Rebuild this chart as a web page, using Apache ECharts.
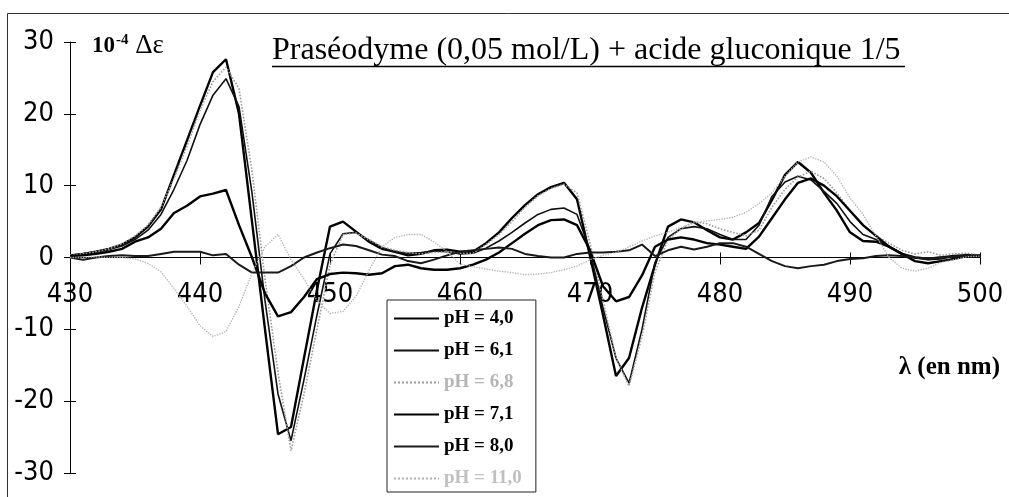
<!DOCTYPE html>
<html><head><meta charset="utf-8">
<script src="https://cdn.jsdelivr.net/npm/echarts/dist/echarts.min.js"></script>
<style>html,body{margin:0;padding:0;background:#fff}#c{width:1009px;height:497px}</style>
</head><body><div id="c"></div>
<script>
const wavelengths = [430,431,432,433,434,435,436,437,438,439,440,441,442,443,444,445,446,447,448,449,450,451,452,453,454,455,456,457,458,459,460,461,462,463,464,465,466,467,468,469,470,471,472,473,474,475,476,477,478,479,480,481,482,483,484,485,486,487,488,489,490,491,492,493,494,495,496,497,498,499,500];
const xTicks = [430,440,450,460,470,480,490,500];
const yTicks = [-30,-20,-10,0,10,20,30];
const seriesNames = ['pH = 4,0','pH = 6,1','pH = 6,8','pH = 7,1','pH = 8,0','pH = 11,0'];
const pH40 = [0.3,0.5,0.8,1.2,1.8,2.8,4.3,6.7,11.5,16.3,21.1,25.8,
  27.6,20.0,5.0,-10.0,-24.6,-23.6,-14.0,-4.5,4.3,5.0,
  3.6,2.2,1.2,0.8,0.3,0.5,1.0,1.1,0.8,0.8,
  2.0,3.5,5.5,7.3,8.8,9.8,10.4,8.1,0.2,-8.0,
  -16.5,-14.0,-7.0,-1.0,4.3,5.3,4.9,3.8,2.8,2.5,
  3.5,4.8,8.0,11.5,13.3,11.8,9.0,6.5,3.5,2.3,
  2.2,1.5,0.5,0.0,-0.2,0.0,0.2,0.3,0.2];
const pH61 = [0.3,0.5,0.8,1.1,1.6,2.5,3.8,6.0,9.5,13.5,18.5,22.6,
  24.9,21.0,9.0,-6.0,-19.0,-25.5,-17.0,-8.0,0.5,3.3,
  3.5,2.4,1.4,0.8,0.6,0.7,0.9,0.8,0.5,0.6,
  1.3,2.3,3.5,4.8,6.0,6.7,6.9,6.0,1.0,-7.0,
  -14.0,-17.5,-10.0,-0.7,2.8,4.0,4.3,4.0,3.2,2.5,
  2.5,4.5,8.5,10.5,11.3,10.8,9.2,7.5,5.0,3.2,
  2.5,1.6,0.5,0.0,-0.3,-0.2,0.2,0.4,0.2];
const pH68 = [0.3,0.5,0.8,1.2,1.9,3.0,4.5,7.0,11.0,15.5,20.5,24.5,
  26.5,23.5,12.0,-3.0,-16.0,-26.9,-19.0,-10.0,-1.0,3.2,
  3.4,2.5,1.5,1.0,0.7,0.5,0.7,0.8,0.6,0.6,
  1.8,3.2,5.0,7.0,8.6,9.6,10.2,9.0,2.0,-6.0,
  -14.0,-17.9,-11.0,-2.0,2.5,4.0,5.0,4.7,4.0,3.5,
  3.0,3.8,7.0,9.5,11.2,12.0,11.0,9.0,6.5,4.5,
  3.0,2.0,1.0,0.5,0.8,0.3,0.5,0.6,0.3];
const pH71 = [0.2,0.3,0.5,0.8,1.2,2.2,2.8,4.0,6.2,7.2,8.5,8.9,
  9.4,4.5,0.0,-5.0,-8.2,-7.6,-5.5,-3.0,-2.3,-2.1,
  -2.2,-2.4,-2.2,-1.2,-1.0,-1.5,-1.7,-1.7,-1.5,-1.0,
  -0.3,0.7,2.0,3.3,4.5,5.2,5.3,4.5,1.0,-4.0,
  -6.1,-5.5,-2.5,1.5,2.5,2.8,2.5,2.0,1.8,1.5,
  1.2,2.9,5.5,8.1,10.4,11.0,10.0,8.5,6.5,4.5,
  3.0,1.5,0.5,-0.5,-0.8,-0.5,-0.2,0.2,0.3];
const pH80 = [0.0,-0.3,0.0,0.2,0.3,0.2,0.2,0.5,0.8,0.8,0.8,0.3,
  0.5,-1.0,-2.1,-2.1,-2.1,-1.2,0.0,0.7,1.3,1.8,
  1.6,1.0,0.4,0.2,-0.5,-0.8,-0.3,0.3,0.8,1.0,
  1.2,1.4,1.2,0.5,0.2,0.0,0.0,0.5,0.7,0.7,
  0.8,1.0,1.8,0.2,1.0,1.5,1.1,1.5,2.0,2.0,
  1.5,0.5,-0.5,-1.2,-1.5,-1.2,-1.0,-0.5,-0.2,-0.1,
  0.2,0.3,0.2,0.0,-0.1,0.0,0.1,0.2,0.1];
const pH110 = [0.0,0.0,0.1,0.0,0.0,-0.2,-0.8,-2.0,-4.3,-6.8,-9.5,-11.0,
  -10.3,-6.8,-2.2,1.5,3.2,-0.3,-3.0,-6.0,-7.8,-7.5,
  -5.4,-1.8,1.5,2.8,3.2,3.2,2.2,0.8,-0.9,-1.3,
  -1.6,-1.9,-2.1,-2.4,-2.3,-2.1,-1.7,-1.2,-0.3,0.3,
  0.7,1.5,2.3,3.0,3.5,4.2,4.8,5.1,5.3,5.6,
  6.3,7.5,9.0,11.3,13.3,14.0,13.3,11.3,8.3,6.0,
  3.0,0.0,-1.5,-1.9,-1.5,-0.7,-0.3,0.1,0.2];

const allValues = [pH40,pH61,pH68,pH71,pH80,pH110];
const styles = [
  {color:'#000', width:2.4, type:'solid'},
  {color:'#111', width:1.6, type:'solid'},
  {color:'#9a9a9a', width:1.6, type:'dotted'},
  {color:'#000', width:2.4, type:'solid'},
  {color:'#1a1a1a', width:2.0, type:'solid'},
  {color:'#b0b0b0', width:1.3, type:'dotted'}
];
const legendTextColors = ['#000','#000','#b5b5b5','#000','#000','#c0c0c0'];

const chart = echarts.init(document.getElementById('c'), null, {renderer:'canvas'});
const narrow = "'Liberation Sans Narrow','DejaVu Sans Condensed',sans-serif";
const serif = "'Liberation Serif','DejaVu Serif',serif";

const series = seriesNames.map((n,i)=>({
  name:n, type:'line', xAxisIndex:0, yAxisIndex:0,
  data: wavelengths.map((w,k)=>[w, allValues[i][k]]),
  showSymbol:false, symbol:'none', smooth:false,
  lineStyle:{color:styles[i].color, width:styles[i].width, type:styles[i].type},
  itemStyle:{color:styles[i].color},
  emphasis:{disabled:true}, z: 2 + i*0.1
}));

// plot height 431 px between y=30 and y=-30, so zero sits 215.5 px above the grid bottom
const zeroOffset = -215.5;

const option = {
  animation:false,
  backgroundColor:'#fff',
  title:{
    text:'Praséodyme (0,05 mol/L) + acide gluconique 1/5',
    left:272, top:35, padding:0,
    textStyle:{fontFamily:serif, fontSize:32, fontWeight:'normal', color:'#000', lineHeight:32}
  },
  grid:{left:70, right:29, top:42, bottom:24, containLabel:false, outerBoundsMode:'none'},
  legend:{
    orient:'vertical', left:387, top:300, padding:[9,14,4,6], itemGap:13,
    itemWidth:45, itemHeight:14, borderColor:'#222', borderWidth:1, backgroundColor:'#fff',
    itemStyle:{opacity:0},
    textStyle:{fontFamily:serif, fontWeight:'bold', fontSize:19, color:'#000', lineHeight:19},
    data: seriesNames.map((n,i)=>({name:n, textStyle:{color:legendTextColors[i]}}))
  },
  xAxis:[{
    type:'value', min:xTicks[0], max:xTicks[xTicks.length-1], interval:10,
    position:'bottom', offset:zeroOffset,
    axisLine:{onZero:false, lineStyle:{color:'#000', width:1}},
    axisTick:{show:true, length:7, lineStyle:{color:'#000', width:1}},
    axisLabel:{margin:24, fontFamily:narrow, fontSize:27, color:'#000'},
    splitLine:{show:false},
    name:'λ (en nm)', nameLocation:'end', nameGap:20,
    nameTextStyle:{align:'right', verticalAlign:'top', padding:[98,0,0,0], fontFamily:serif, fontWeight:'bold', fontSize:25, color:'#000'}
  },{
    type:'value', min:xTicks[0], max:xTicks[xTicks.length-1], interval:10,
    position:'bottom', offset:zeroOffset,
    axisLine:{show:false, onZero:false},
    axisTick:{show:true, inside:true, length:5, lineStyle:{color:'#000', width:1}},
    axisLabel:{show:false}, splitLine:{show:false}
  }],
  yAxis:[{
    type:'value', min:yTicks[0], max:yTicks[yTicks.length-1], interval:10,
    axisLine:{show:true, onZero:false, lineStyle:{color:'#000', width:1}},
    axisTick:{show:true, length:6, lineStyle:{color:'#000', width:1}},
    axisLabel:{margin:16, fontFamily:narrow, fontSize:27, color:'#000'},
    splitLine:{show:false},
    name:'{a|10}{b|-4}{c| Δε}', nameLocation:'end', nameGap:-4,
    nameTextStyle:{align:'left', verticalAlign:'middle', padding:[0,0,0,22],
      rich:{
        a:{fontFamily:serif, fontWeight:'bold', fontSize:23, color:'#000'},
        b:{fontFamily:serif, fontWeight:'bold', fontSize:15, color:'#000', verticalAlign:'top', padding:[0,0,8,1]},
        c:{fontFamily:serif, fontSize:27, color:'#000'}
      }}
  },{
    type:'value', min:yTicks[0], max:yTicks[yTicks.length-1], interval:10, position:'left',
    axisLine:{show:false, onZero:false},
    axisTick:{show:true, inside:true, length:6, lineStyle:{color:'#000', width:1}},
    axisLabel:{show:false}, splitLine:{show:false}
  }],
  graphic:[
    {type:'rect', silent:true, z:-10, shape:{x:7.5, y:13.5, width:1020, height:520}, style:{fill:'none', stroke:'#333', lineWidth:1}},
    {type:'line', silent:true, shape:{x1:272, y1:66.5, x2:905, y2:66.5}, style:{stroke:'#000', lineWidth:1.5}}
  ],
  series: series
};
chart.setOption(option);
</script>
</body></html>
